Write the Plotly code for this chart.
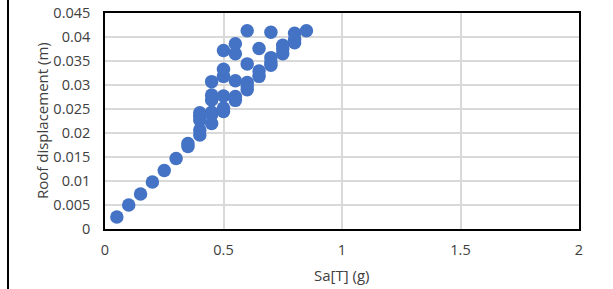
import plotly.graph_objects as go

sa_g = [0.05, 0.10, 0.15, 0.20, 0.25, 0.30, 0.35, 0.35,
        0.40, 0.40, 0.40, 0.40, 0.40,
        0.45, 0.45, 0.45, 0.45, 0.45, 0.45,
        0.50, 0.50, 0.50, 0.50, 0.50, 0.50,
        0.55, 0.55, 0.55, 0.55, 0.55,
        0.60, 0.60, 0.60, 0.60, 0.60,
        0.65, 0.65, 0.65,
        0.70, 0.70, 0.70, 0.70,
        0.75, 0.75, 0.75,
        0.80, 0.80, 0.80,
        0.85]
roof_disp_m = [0.0025, 0.0050, 0.0073, 0.0098, 0.0122, 0.0147, 0.0172, 0.0178,
               0.0196, 0.0206, 0.0227, 0.0235, 0.0242,
               0.0220, 0.0238, 0.0243, 0.0269, 0.0279, 0.0307,
               0.0245, 0.0252, 0.0277, 0.0318, 0.0333, 0.0372,
               0.0268, 0.0276, 0.0309, 0.0365, 0.0386,
               0.0290, 0.0298, 0.0305, 0.0344, 0.0413,
               0.0318, 0.0329, 0.0376,
               0.0341, 0.0348, 0.0357, 0.0410,
               0.0365, 0.0375, 0.0383,
               0.0388, 0.0395, 0.0408,
               0.0413]

x_ticks = [0, 0.5, 1, 1.5, 2]
x_tick_text = ["0", "0.5", "1", "1.5", "2"]
y_ticks = [0, 0.005, 0.01, 0.015, 0.02, 0.025, 0.03, 0.035, 0.04, 0.045]
y_tick_text = ["0", "0.005", "0.01", "0.015", "0.02", "0.025", "0.03", "0.035", "0.04", "0.045"]

x_title = "Sa[T] (g)"
y_title = "Roof displacement (m)"

font_fam = "Open Sans, Liberation Sans, sans-serif"
text_col = "#404040"
tick_size = 14.5
title_size = 15

fig = go.Figure()
fig.add_trace(go.Scatter(
    x=sa_g, y=roof_disp_m, mode="markers",
    marker=dict(size=13.5, color="#4472C4", line=dict(width=0)),
    showlegend=False, cliponaxis=False, hoverinfo="skip",
))

W, H = 613, 289
ML, MR, MT, MB = 105, 34, 13, 60
PW, PH = W - ML - MR, H - MT - MB

fig.update_layout(
    width=W, height=H,
    margin=dict(l=ML, r=MR, t=MT, b=MB, autoexpand=False),
    paper_bgcolor="white", plot_bgcolor="white",
    font=dict(family=font_fam, size=tick_size, color=text_col),
    xaxis=dict(
        range=[0, 2], tickvals=x_ticks, ticktext=x_tick_text,
        showgrid=True, gridcolor="#D9D9D9", gridwidth=1.5,
        showline=True, linecolor="black", linewidth=1.5, mirror=True,
        zeroline=False, ticks="", automargin=False,
        ticklabelstandoff=7, ticklabeloverflow="allow",
        tickfont=dict(size=tick_size, color=text_col),
    ),
    yaxis=dict(
        range=[0, 0.045], tickvals=y_ticks, ticktext=y_tick_text,
        showgrid=True, gridcolor="#D9D9D9", gridwidth=1.5,
        showline=True, linecolor="black", linewidth=1.5, mirror=True,
        zeroline=False, ticks="", automargin=False,
        ticklabelstandoff=10, ticklabeloverflow="allow",
        tickfont=dict(size=tick_size, color=text_col),
    ),
)

fig.add_annotation(text=x_title, xref="paper", yref="paper",
                   x=0.5, y=(PH - (275 - MT)) / PH, xanchor="center", yanchor="middle",
                   showarrow=False, font=dict(size=title_size, color=text_col))
fig.add_annotation(text=y_title, xref="paper", yref="paper",
                   x=(42 - ML) / PW, y=0.5, xanchor="center", yanchor="middle",
                   textangle=-90, showarrow=False, font=dict(size=title_size, color=text_col))

# left black border of the frame in the original screenshot
fig.add_shape(type="line", xref="paper", yref="paper",
              x0=(8 - ML) / PW, x1=(8 - ML) / PW, y0=-MB / PH - 0.05, y1=1 + MT / PH + 0.05,
              line=dict(color="black", width=2))

fig.write_html("out.html", config={"displayModeBar": False},
               post_script="document.body.style.margin='0px';")
